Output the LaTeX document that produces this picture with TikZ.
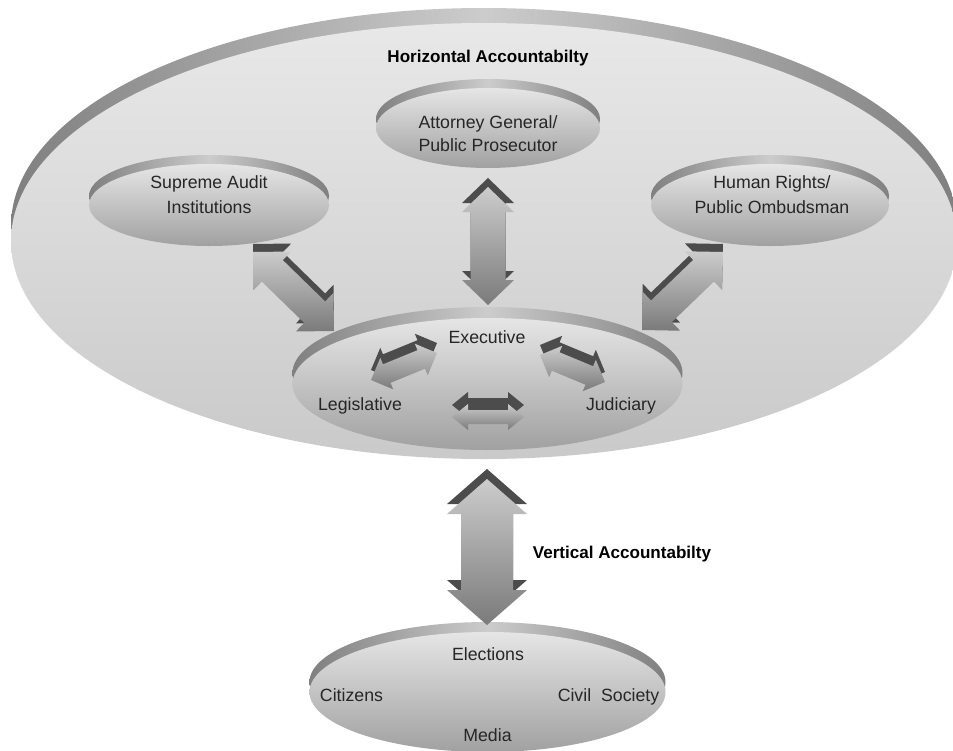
\documentclass[tikz,border=0pt]{standalone}
\usepackage{fontspec}
\setmainfont{Liberation Sans}
\usetikzlibrary{calc,shapes.geometric}
\definecolor{bigtop}{gray}{0.91}
\definecolor{bigbot}{gray}{0.79}
\definecolor{smtop}{gray}{0.90}
\definecolor{smbot}{gray}{0.63}
\definecolor{rimside}{gray}{0.50}
\definecolor{rimmid}{gray}{0.80}
\definecolor{arrtop}{gray}{0.80}
\definecolor{arrbot}{gray}{0.48}
\definecolor{bevelc}{gray}{0.30}
\definecolor{txt}{gray}{0.15}
% disc: name, cx, cy, rx, ry, rim offset, top colour, bottom colour
\newcommand\disc[8]{%
  \shade[rim] (#2,#3-#6) ellipse [x radius=#4*0.75pt, y radius=#5*0.75pt];
  \node[ellipse, inner sep=0pt, minimum width=#4*1.5pt, minimum height=#5*1.5pt,
        top color=#7, bottom color=#8] (#1) at (#2,#3) {};
}
% points of a fat double arrow: A, B, head half width, shaft half width, head length, prefix
\newcommand\fatpts[6]{%
  \coordinate (#6a) at ($(#1)!#5*0.75pt!(#2)$);
  \coordinate (#6b) at ($(#2)!#5*0.75pt!(#1)$);
  \coordinate (#6p1) at ($(#6a)!#3*0.75pt!90:(#2)$);
  \coordinate (#6p2) at ($(#6a)!#4*0.75pt!90:(#2)$);
  \coordinate (#6p3) at ($(#6b)!#4*0.75pt!-90:(#1)$);
  \coordinate (#6p4) at ($(#6b)!#3*0.75pt!-90:(#1)$);
  \coordinate (#6p5) at ($(#6b)!#3*0.75pt!90:(#1)$);
  \coordinate (#6p6) at ($(#6b)!#4*0.75pt!90:(#1)$);
  \coordinate (#6p7) at ($(#6a)!#4*0.75pt!-90:(#2)$);
  \coordinate (#6p8) at ($(#6a)!#3*0.75pt!-90:(#2)$);
}
% fat arrow: A, B, w, s, h, d (bevel lift)
\newcommand\fatarrow[6]{%
  \coordinate (DA) at ($(#1)+(0,-#6)$);
  \coordinate (DB) at ($(#2)+(0,-#6)$);
  \fatpts{DA}{DB}{#3}{#4}{#5}{D}
  \fatpts{#1}{#2}{#3}{#4}{#5}{F}
  \fill[bevel] (DA) -- (Dp1) -- (Dp2) -- (Dp3) -- (Dp4) -- (DB) -- (Dp5) -- (Dp6) -- (Dp7) -- (Dp8) -- cycle;
  \shade[face] (#1) -- (Fp1) -- (Fp2) -- (Fp3) -- (Fp4) -- (#2) -- (Fp5) -- (Fp6) -- (Fp7) -- (Fp8) -- cycle;
}
\begin{document}
\begin{tikzpicture}[x=0.75pt,y=-0.75pt,
  lbl/.style={font=\fontsize{13.3}{15}\selectfont, text=txt, inner sep=0pt, anchor=base},
  ttl/.style={font=\bfseries\fontsize{12.8}{15}\selectfont, text=black, inner sep=0pt, anchor=base},
  face/.style={top color=arrtop, bottom color=arrbot},
  bevel/.style={fill=bevelc},
  rim/.style={left color=rimside, right color=rimside, middle color=rimmid},
]
\useasboundingbox (0,0) rectangle (953,750);
\fill[white] (0,0) rectangle (953,750);
\clip (0,0) rectangle (953,750);

% ellipses
\disc{horiz}{484}{241}{473}{218}{15}{bigtop}{bigbot}
\disc{ag}{488}{128}{112}{40}{9}{smtop}{smbot}
\disc{sai}{209}{205}{120}{41}{9}{smtop}{smbot}
\disc{hr}{770}{205}{119}{41}{9}{smtop}{smbot}
\disc{exec}{487.5}{384}{195}{66}{11}{smtop}{smbot}
\disc{vert}{487.5}{692}{178}{60}{10}{smtop}{smbot}

% arrow end points
\coordinate (agT) at (488,187);
\coordinate (agB) at (488,305);
\coordinate (saT) at (253,252);
\coordinate (saB) at (334,331);
\coordinate (hrT) at (723,252);
\coordinate (hrB) at (642,330);
\coordinate (leA) at (371,380);
\coordinate (leB) at (437,353);
\coordinate (ejA) at (540,355);
\coordinate (ejB) at (605,382);
\coordinate (ljA) at (452,417);
\coordinate (ljB) at (524,417);
\coordinate (vtT) at (487,479);
\coordinate (vtB) at (487,625);

\fatarrow{agT}{agB}{26}{17.5}{25}{9}
\fatarrow{saT}{saB}{27}{15}{27}{8}
\fatarrow{hrT}{hrB}{27}{15}{27}{8}
\fatarrow{leA}{leB}{17}{10}{17}{10}
\fatarrow{ejA}{ejB}{17}{10}{17}{10}
\fatarrow{ljA}{ljB}{13}{7}{16}{12}
\fatarrow{vtT}{vtB}{40}{26}{35}{10}

% texts
\node[ttl] (thoriz) at (488,62) {Horizontal Accountabilty};
\node[ttl] (tvert) at (622,558) {Vertical Accountabilty};
\node[lbl] (tag1) at (488,128) {Attorney General/};
\node[lbl] (tag2) at (488,151) {Public Prosecutor};
\node[lbl] (tsa1) at (209,188) {Supreme Audit};
\node[lbl] (tsa2) at (209,213) {Institutions};
\node[lbl] (thr1) at (772,188) {Human Rights/};
\node[lbl] (thr2) at (772,213) {Public Ombudsman};
\node[lbl] (texe) at (487,343) {Executive};
\node[lbl] (tleg) at (360,410) {Legislative};
\node[lbl] (tjud) at (621,410) {Judiciary};
\node[lbl] (tele) at (488,660) {Elections};
\node[lbl] (tcit) at (351.5,701) {Citizens};
\node[lbl] (tciv) at (608.5,701) {Civil\ \ Society};
\node[lbl] (tmed) at (487.5,741) {Media};
\end{tikzpicture}
\end{document}
